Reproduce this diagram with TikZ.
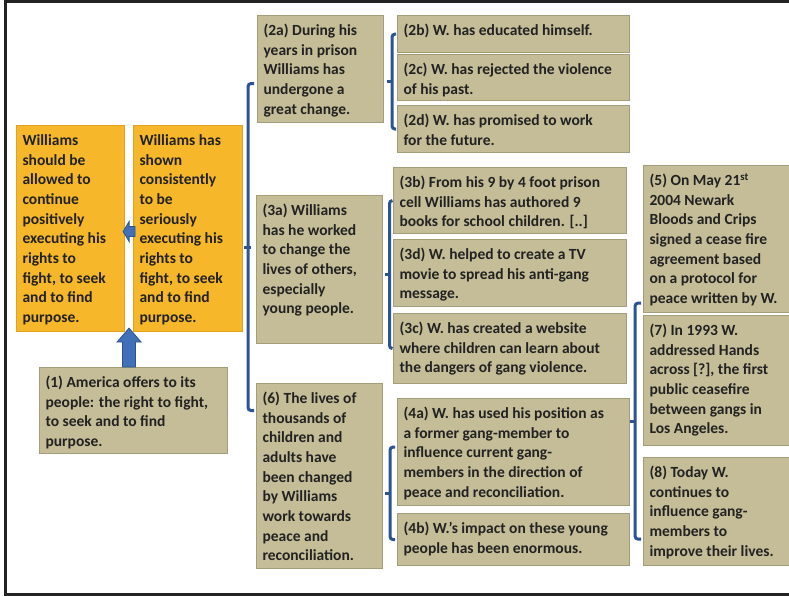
\documentclass[tikz,border=0pt]{standalone}
\usepackage{fontspec}
\setmainfont{Carlito}
\usetikzlibrary{calc}
\definecolor{tanfill}{HTML}{C4BD97}
\definecolor{tandraw}{HTML}{A39D7A}
\definecolor{orfill}{HTML}{F6B82A}
\definecolor{ordraw}{HTML}{E4A11B}
\definecolor{brblue}{HTML}{2C5395}
\definecolor{arfill}{HTML}{4170B8}
\definecolor{ardraw}{HTML}{2F528F}
\definecolor{txt}{HTML}{222222}
\definecolor{framec}{HTML}{232323}
\tikzset{
  tanbox/.style={rectangle, fill=tanfill, draw=tandraw, line width=1.1pt, inner xsep=6pt, inner ysep=6pt, text=txt, font=\bfseries\fontsize{15.5}{19.7}\selectfont},
  orbox/.style={tanbox, fill=orfill, draw=ordraw},
  bracket/.style={draw=brblue, line width=3pt, rounded corners=3pt},
  blockarrow/.style={fill=arfill, draw=ardraw, line width=0.8pt},
  framel/.style={draw=framec, line width=3pt}
}
\newcommand{\mybox}[7][tanbox]{%
  \node[#1, anchor=north west] (#2) at (#3,#4)
    {\parbox[t][\dimexpr#6pt-12pt\relax][t]{\dimexpr#5pt-12pt\relax}{\raggedright\strut #7}};}
\begin{document}
\begin{tikzpicture}[x=1pt,y=-1pt]
\useasboundingbox (0,0) rectangle (789,596);
\fill[white] (0,0) rectangle (789,596);
\draw[framel] (789,2) -- (5,2) -- (5,594) -- (789,594);

\mybox[orbox]{A}{16}{125}{108}{206}{Williams\\should be\\allowed to\\continue\\positively\\executing his\\rights to\\fight, to seek\\and to find\\purpose.}
\mybox[orbox]{B}{133}{125}{109}{206}{Williams has\\shown\\consistently\\to be\\seriously\\executing his\\rights to\\fight, to seek\\and to find\\purpose.}
\mybox{one}{39}{367}{188}{86}{(1) America offers to its\\people: the right to fight,\\to seek and to find\\purpose.}

\mybox{a2}{257}{15}{126}{107}{(2a) During his\\years in prison\\Williams has\\undergone a\\great change.}
\mybox{b2}{397}{15}{232}{37}{(2b) W. has educated himself.}
\mybox{c2}{397}{54}{232}{46}{(2c) W. has rejected the violence\\of his past.}
\mybox{d2}{397}{105}{232}{47}{(2d) W. has promised to work\\for the future.}

\mybox{a3}{256}{195}{126}{148}{(3a) Williams\\has he worked\\to change the\\lives of others,\\especially\\young people.}
\mybox{b3}{393}{167}{233}{66}{(3b) From his 9 by 4 foot prison\\cell Williams has authored 9\\books for school children. [..]}
\mybox{d3}{393}{239}{233}{67}{(3d) W. helped to create a TV\\movie to spread his anti-gang\\message.}
\mybox{c3}{393}{313}{233}{70}{(3c) W. has created a website\\where children can learn about\\the dangers of gang violence.}

\mybox{six}{256}{383}{126}{185}{(6) The lives of\\thousands of\\children and\\adults have\\been changed\\by Williams\\work towards\\peace and\\reconciliation.}
\mybox{a4}{397}{398}{232}{107}{(4a) W. has used his position as\\a former gang-member to\\influence current gang-\\members in the direction of\\peace and reconciliation.}
\mybox{b4}{397}{513}{232}{52}{(4b) W.'s impact on these young\\people has been enormous.}

\mybox{five}{643}{165}{150}{147}{(5) On May 21\textsuperscript{st}\\2004 Newark\\Bloods and Crips\\signed a cease fire\\agreement based\\on a protocol for\\peace written by W.}
\mybox{seven}{643}{315}{150}{130}{(7) In 1993 W.\\addressed Hands\\across [?], the first\\public ceasefire\\between gangs in\\Los Angeles.}
\mybox{eight}{643}{457}{150}{108}{(8) Today W.\\continues to\\influence gang-\\members to\\improve their lives.}

% big left bracket
\coordinate (L1) at ([xshift=-3pt,yshift=-14.5pt]a2.west);
\coordinate (L2) at ([xshift=-2pt,yshift=65.5pt]six.west);
\draw[bracket] (L1) -- ++(-6,0) |- (L2);
\draw[bracket] ([xshift=1pt,yshift=-19pt]B.east) -- ++(6.5,0);

% 2a bracket
\draw[bracket] ([xshift=-1pt]b2.west) -- ++(-4,0) |- ([xshift=-1pt]d2.west);
\draw[bracket] ($(b2.west)!0.5!(d2.west)+(-5,0)$) -- ++(-5,0);

% 3a bracket
\draw[bracket] ([xshift=-0.5pt]b3.west) -- ++(-3,0) |- ([xshift=-0.5pt]c3.west);
\draw[bracket] ($(b3.west)!0.5!(c3.west)+(-3.5,0)$) -- ++(-5,0);

% 6 bracket
\draw[bracket] ([xshift=-2pt,yshift=5pt]a4.west) -- ++(-5,0) |- ([xshift=-2pt]b4.west);
\draw[bracket] ($([yshift=5pt]a4.west)!0.5!(b4.west)+(-7,0)$) -- ++(-5,0);

% right bracket
\coordinate (R1) at ([xshift=-2pt,yshift=10pt]five.south west);
\coordinate (R2) at ([xshift=-2pt,yshift=27pt]eight.south west);
\draw[bracket] (R1) -- ++(-6,0) |- (R2);
\draw[bracket] ($(R1)!0.5!(R2)+(-6,0)$) -- ++(-5.5,0);

% up arrow
\coordinate (uptip) at ($(A.south east)!0.5!(B.south west)+(0,-4)$);
\coordinate (upfoot) at (uptip |- one.north);
\filldraw[blockarrow] ($(upfoot)+(-6.5,0)$) -- ($(upfoot)+(-6.5,-25)$) -- ($(upfoot)+(-12,-25)$) -- (uptip) -- ($(upfoot)+(12,-25)$) -- ($(upfoot)+(6.5,-25)$) -- ($(upfoot)+(6.5,0)$) -- cycle;

% left arrow
\coordinate (ltip) at ([xshift=-2pt,yshift=-3pt]A.east);
\coordinate (lend) at ([xshift=2pt,yshift=-3pt]B.west);
\filldraw[blockarrow] (ltip) -- ($(ltip)+(6,-10)$) -- ($(ltip)+(6,-5)$) -- ($(lend)+(0,-5)$) -- ($(lend)+(0,5)$) -- ($(ltip)+(6,5)$) -- ($(ltip)+(6,10)$) -- cycle;
\end{tikzpicture}
\end{document}
